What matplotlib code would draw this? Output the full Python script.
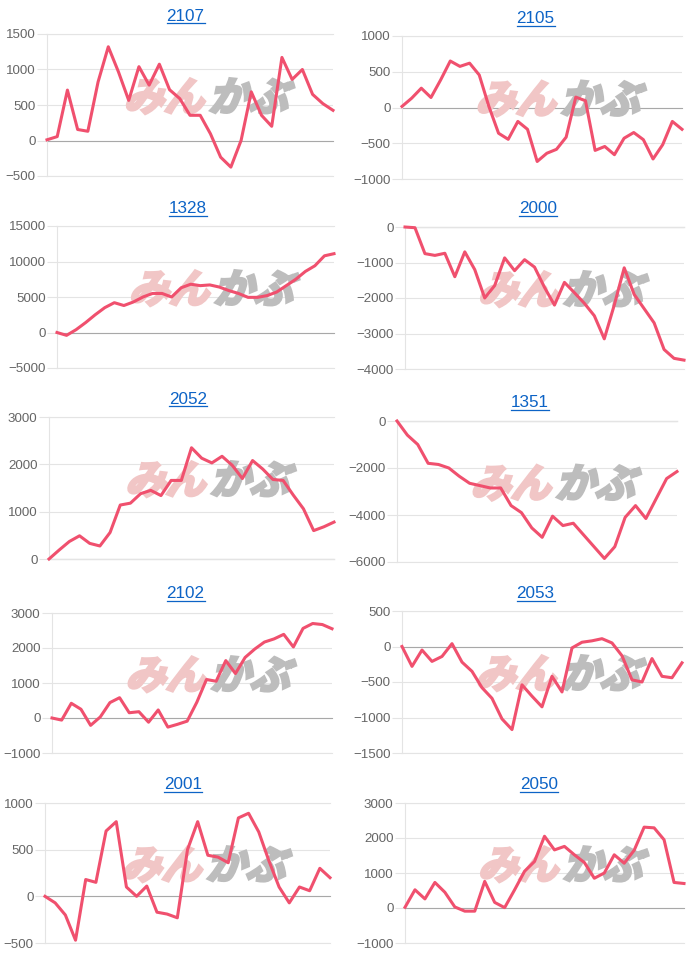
import matplotlib
matplotlib.use('Agg')
import matplotlib.pyplot as plt
from matplotlib.lines import Line2D
from matplotlib.textpath import TextPath
from matplotlib.patches import PathPatch
from matplotlib.font_manager import FontProperties
from matplotlib.transforms import Affine2D
import numpy as np

plt.rcParams['font.family'] = ['Liberation Sans', 'DejaVu Sans']

# stock codes, in reading order (left, right per row)
codes = ['2107', '2105', '1328', '2000', '2052', '1351', '2102', '2053', '2001', '2050']

s2107 = [10, 55, 710, 155, 130, 825, 1320, 965, 565, 1040, 780, 1075, 715, 590, 355,
         355, 95, -235, -375, 0, 685, 355, 200, 1170, 860, 1000, 650, 520, 425]
s2105 = [15, 130, 270, 140, 385, 650, 575, 620, 455, 15, -360, -445, -195, -305, -755,
         -640, -585, -415, 145, 95, -600, -545, -660, -430, -350, -450, -720, -520, -195, -305]
s1328 = [0, -400, 400, 1400, 2500, 3500, 4200, 3800, 4300, 5000, 5500, 5500, 5000, 6300, 6800,
         6600, 6700, 6400, 5900, 5500, 4950, 4950, 5200, 5700, 6600, 7500, 8600, 9400, 10800, 11100]
s2000 = [0, -20, -750, -800, -740, -1400, -700, -1200, -2000, -1650, -870, -1230, -920, -1130, -1700,
         -2200, -1560, -1850, -2150, -2500, -3150, -2200, -1150, -1900, -2300, -2700, -3450, -3700, -3750]
s2052 = [0, 190, 370, 490, 330, 275, 560, 1140, 1180, 1380, 1450, 1340, 1660, 1660, 2350,
         2130, 2030, 2170, 1980, 1700, 2080, 1900, 1680, 1660, 1350, 1060, 600, 680, 780]
s1351 = [0, -600, -1000, -1800, -1850, -2000, -2350, -2650, -2750, -2850, -2850, -3600, -3900, -4550,
         -4950, -4050, -4450, -4350, -4850, -5350, -5850, -5350, -4100, -3600, -4150, -3300, -2450, -2150]
s2102 = [0, -60, 420, 250, -210, 30, 440, 580, 150, 180, -120, 230, -260, -180, -90,
         450, 1100, 1050, 1640, 1270, 1730, 1970, 2170, 2260, 2390, 2030, 2560, 2700, 2670, 2550]
s2053 = [0, -280, -50, -210, -140, 40, -220, -350, -580, -730, -1020, -1170, -540, -700, -850,
         -420, -640, -20, 60, 80, 110, 50, -130, -470, -500, -170, -420, -440, -230]
s2001 = [0, -70, -200, -470, 180, 150, 700, 800, 100, 0, 110, -170, -190, -230, 500,
         800, 440, 420, 360, 840, 890, 690, 380, 100, -70, 100, 60, 300, 200]
s2050 = [20, 520, 260, 730, 450, 30, -90, -90, 760, 160, 10, 520, 1050, 1330, 2050,
         1660, 1760, 1520, 1300, 850, 1000, 1520, 1280, 1650, 2310, 2290, 1950, 730, 700]

series = [s2107, s2105, s1328, s2000, s2052, s1351, s2102, s2053, s2001, s2050]
ymins = [-500, -1000, -5000, -4000, 0, -6000, -1000, -1500, -500, -1000]
ymaxs = [1500, 1000, 15000, 0, 3000, 0, 3000, 500, 1000, 3000]
ysteps = [500, 500, 5000, 1000, 1000, 2000, 1000, 500, 500, 1000]

# layout in pixels: plot box (left, top, right, bottom), title centre x and baseline y
boxes = [(47, 34, 333, 176), (402, 36, 682, 179),
         (57, 226, 334, 368), (405, 227, 684, 369),
         (49, 417, 334, 559), (397, 421, 677, 562),
         (52, 613, 332, 753), (402, 611, 682, 753),
         (45, 803, 330, 943), (405, 803, 684, 943)]
title_pos = [(185.5, 20.7), (535.5, 23.3), (187.8, 213.3), (537.8, 213.3),
             (187.8, 404), (530.2, 407.3), (185.5, 598.3), (535.5, 598.3),
             (183.3, 789.3), (539.2, 789.3)]

W, H = 700, 958
LINE = '#f0506e'
GRID = '#e4e4e4'
ZERO = '#a8a8a8'
LINK = '#0c63c6'

fig = plt.figure(figsize=(W / 100, H / 100), dpi=100)
fig.patch.set_facecolor('white')

wm_font = FontProperties(family=['Noto Sans CJK JP'], weight='bold')

for i, code in enumerate(codes):
    l, t, r, b = boxes[i]
    ax = fig.add_axes([l / W, 1 - b / H, (r - l) / W, (b - t) / H])
    ys = series[i]
    xs = np.arange(len(ys))
    ax.set_xlim(0, len(ys) - 1)
    ax.set_ylim(ymins[i], ymaxs[i])
    ax.set_yticks(np.arange(ymins[i], ymaxs[i] + 1, ysteps[i]))
    ax.set_xticks([])
    ax.tick_params(axis='y', length=7, width=0.8, color=GRID, pad=1.2,
                   labelsize=9.6, labelcolor='#666666')
    ax.spines['right'].set_visible(False)
    for sp in ['left', 'top', 'bottom']:
        ax.spines[sp].set_color(GRID)
        ax.spines[sp].set_linewidth(0.8)
    ax.grid(axis='y', color=GRID, linewidth=0.8)
    ax.set_axisbelow(True)
    ax.axhline(0, color=ZERO, linewidth=0.8, zorder=1.2, clip_on=False)

    # watermark, drawn in pixel space with a slant
    cx = l + 0.55 * (r - l)
    cy = H - (b - 0.565 * (b - t))
    p1 = TextPath((0, 0), 'みん', size=40, prop=wm_font)
    p2 = TextPath((0, 0), 'かぶ', size=40, prop=wm_font)
    w1 = p1.get_extents().width
    w2 = p2.get_extents().width
    x0 = cx - (w1 + w2 + 8) / 2
    y0 = cy - 15
    tr1 = Affine2D().skew_deg(16, 0).translate(x0, y0)
    tr2 = Affine2D().skew_deg(16, 0).translate(x0 + w1 + 8, y0)
    ax.add_patch(PathPatch(p1, transform=tr1, facecolor='#f1c6c6', edgecolor='#f1c6c6',
                           linewidth=2.2, zorder=1.5, clip_on=False))
    ax.add_patch(PathPatch(p2, transform=tr2, facecolor='#bdbdbd', edgecolor='#bdbdbd',
                           linewidth=2.2, zorder=1.5, clip_on=False))

    ax.plot(xs, ys, color=LINE, linewidth=2.2, zorder=3, clip_on=False)

    tx, ty = title_pos[i]
    fig.text(tx / W, 1 - ty / H, code, ha='center', va='baseline',
             fontsize=12.3, color=LINK)

# underline the titles like links
fig.canvas.draw()
renderer = fig.canvas.get_renderer()
for txt in fig.texts:
    bb = txt.get_window_extent(renderer)
    tx, ty = title_pos[codes.index(txt.get_text())]
    yline = H - ty - 2.2
    fig.add_artist(Line2D([bb.x0, bb.x1], [yline, yline], transform=None,
                          color=LINK, linewidth=0.9))

fig.savefig('out.png', dpi=100, facecolor='white')
